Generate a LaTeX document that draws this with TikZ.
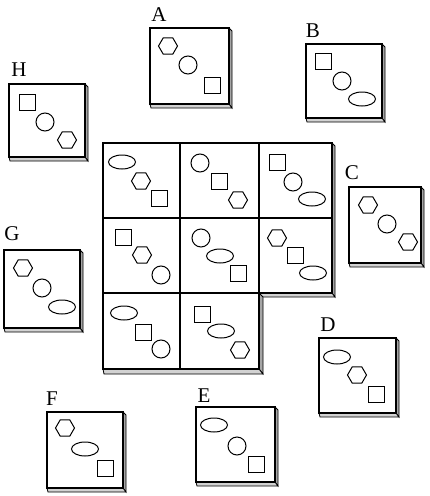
\documentclass[tikz,border=0pt]{standalone}
\usepackage{fontspec}
\setmainfont{Liberation Serif}
\tikzset{
 shp/.style={draw=black, line width=1pt},
 face/.style={draw=black, line width=1.2pt, fill=white},
 sidestrip/.style={draw=black, line width=0.8pt, fill=gray!70},
 botstrip/.style={draw=black, line width=0.8pt, fill=gray!35},
 lbl/.style={font=\fontsize{21}{22}\selectfont, inner sep=0pt, anchor=center}
}
\newcommand\myCard[4]{%
 \filldraw[sidestrip] (#3,#2) -- ({#3+3},{#2+3}) -- ({#3+3},{#4+4}) -- (#3,#4) -- cycle;
 \filldraw[botstrip] (#1,#4) -- (#3,#4) -- ({#3+3},{#4+4}) -- ({#1+1},{#4+4}) -- cycle;
 \draw[face] (#1,#2) rectangle (#3,#4);}
\newcommand\myHex[2]{\draw[shp] (#1,#2) +(9.5,0) -- +(4.75,8.23) -- +(-4.75,8.23) -- +(-9.5,0) -- +(-4.75,-8.23) -- +(4.75,-8.23) -- cycle;}
\newcommand\myCirc[2]{\draw[shp] (#1,#2) circle[radius=9pt];}
\newcommand\mySq[2]{\draw[shp] ({#1-8},{#2-8}) rectangle ({#1+8},{#2+8});}
\newcommand\myEll[2]{\draw[shp] (#1,#2) ellipse[x radius=13.5pt, y radius=7pt];}
\begin{document}
\begin{tikzpicture}[x=1pt,y=-1pt]
\useasboundingbox (0,0) rectangle (430,496);
% ---- central grid ----
\filldraw[sidestrip] (332,143) -- (335,146) -- (335,297) -- (332,293) -- cycle;
\filldraw[botstrip] (259,293) -- (332,293) -- (335,297) -- (262,297) -- cycle;
\filldraw[sidestrip] (259,293) -- (263,297) -- (263,374) -- (259,369) -- cycle;
\filldraw[botstrip] (103,369) -- (259,369) -- (263,374) -- (104,374) -- cycle;
\draw[face] (103,143) rectangle (180,218);
\draw[face] (180,143) rectangle (259,218);
\draw[face] (259,143) rectangle (332,218);
\draw[face] (103,218) rectangle (180,293);
\draw[face] (180,218) rectangle (259,293);
\draw[face] (259,218) rectangle (332,293);
\draw[face] (103,293) rectangle (180,369);
\draw[face] (180,293) rectangle (259,369);
% row 1
\myEll{122}{162} \myHex{141}{181} \mySq{159}{198}
\myCirc{200}{163} \mySq{219}{181} \myHex{238}{200}
\mySq{277}{162} \myCirc{293}{182} \myEll{312}{199}
% row 2
\mySq{123}{237} \myHex{142}{255} \myCirc{161}{275}
\myCirc{201}{238} \myEll{220}{256} \mySq{238}{273}
\myHex{277}{238} \mySq{295}{255} \myEll{313}{273}
% row 3
\myEll{124}{313} \mySq{143}{332} \myCirc{161}{349}
\mySq{202}{314} \myEll{221}{331} \myHex{240}{350}
% ---- answer cards ----
% A
\myCard{150}{28}{229}{104}
\myHex{168}{46} \myCirc{188}{65} \mySq{212}{85}
\node[lbl] (labA) at (159,15) {A};
% B
\myCard{306}{44}{382}{118}
\mySq{323}{61} \myCirc{342}{81} \myEll{362}{99}
\node[lbl] (labB) at (313,31) {B};
% C
\myCard{349}{187}{421}{263}
\myHex{368}{205} \myCirc{387}{224} \myHex{408}{242}
\node[lbl] (labC) at (352,173) {C};
% D
\myCard{319}{338}{396}{413}
\myEll{337}{357} \myHex{357}{375} \mySq{376}{394}
\node[lbl] (labD) at (328,325) {D};
% E
\myCard{196}{407}{275}{482}
\myEll{214}{425} \myCirc{237}{446} \mySq{256}{464}
\node[lbl] (labE) at (204,396) {E};
% F
\myCard{47}{412}{123}{488}
\myHex{65}{428} \myEll{85}{449} \mySq{105}{468}
\node[lbl] (labF) at (52,399) {F};
% G
\myCard{4}{250}{80}{328}
\myHex{23}{268} \myCirc{42}{288} \myEll{62}{307}
\node[lbl] (labG) at (12,234) {G};
% H
\myCard{9}{84}{85}{157}
\mySq{27}{102} \myCirc{45}{122} \myHex{67}{140}
\node[lbl] (labH) at (19,70) {H};
\end{tikzpicture}
\end{document}
